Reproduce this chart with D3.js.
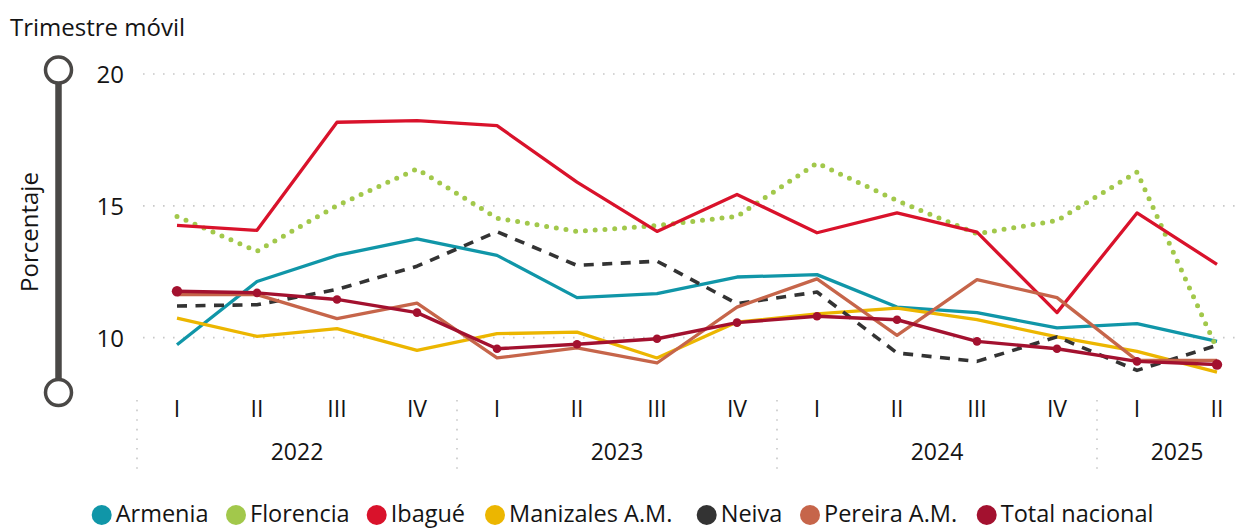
<!DOCTYPE html>
<html>
<head>
<meta charset="utf-8">
<script src="https://cdn.jsdelivr.net/npm/d3@7"></script>
<style>
  html, body { margin: 0; padding: 0; background: #fff; }
  svg { display: block; }
  text { font-family: "Segoe UI", "Open Sans", "Noto Sans", sans-serif; fill: #141414; }
</style>
</head>
<body>
<script>
// ---------- data ----------
const quarters = ["I","II","III","IV","I","II","III","IV","I","II","III","IV","I","II"];
const years = ["2022","2023","2024","2025"];
const yearOfPoint = [0,0,0,0,1,1,1,1,2,2,2,2,3,3];
const yTicks = [10, 15, 20];

const armenia   = [9.73, 12.13, 13.12, 13.75, 13.12, 11.52, 11.67, 12.30, 12.39, 11.16, 10.95, 10.37, 10.53, 9.86];
const florencia = [14.60, 13.28, 15.01, 16.40, 14.53, 14.03, 14.25, 14.60, 16.62, 15.20, 13.94, 14.44, 16.28, 9.58];
const ibague    = [14.26, 14.07, 18.17, 18.23, 18.04, 15.90, 14.03, 15.43, 13.98, 14.73, 14.00, 10.95, 14.73, 12.78];
const manizales = [10.74, 10.05, 10.34, 9.52, 10.15, 10.21, 9.23, 10.59, 10.90, 11.12, 10.68, 10.03, 9.48, 8.69];
const neiva     = [11.20, 11.25, 11.83, 12.71, 14.02, 12.74, 12.90, 11.29, 11.73, 9.42, 9.10, 10.03, 8.76, 9.71];
const pereira   = [11.63, 11.63, 10.72, 11.31, 9.23, 9.61, 9.04, 11.16, 12.23, 10.09, 12.20, 11.52, 9.14, 9.14];
const total     = [11.76, 11.70, 11.45, 10.95, 9.58, 9.75, 9.96, 10.57, 10.81, 10.68, 9.86, 9.58, 9.10, 8.98];

const seriesNames  = ["Armenia","Florencia","Ibagué","Manizales A.M.","Neiva","Pereira A.M.","Total nacional"];
const seriesValues = [armenia, florencia, ibague, manizales, neiva, pereira, total];
const seriesColors = ["#1096A8","#A2C84B","#D9122B","#ECB600","#333333","#C6654A","#A3112F"];

// ---------- layout ----------
const W = 1241, H = 528;
const svg = d3.select("body").append("svg").attr("width", W).attr("height", H);

const x = d3.scaleBand().domain(d3.range(quarters.length)).range([137, 1257]).padding(0);
const xc = i => x(i) + x.bandwidth() / 2;
const y = d3.scaleLinear().domain([8, 20]).range([390.4, 74]);

// title
svg.append("text").attr("x", 10).attr("y", 36).attr("font-size", 24).text("Trimestre móvil");

// slider-like axis decoration
svg.append("line").attr("x1", 58.5).attr("x2", 58.5).attr("y1", 70).attr("y2", 392.5)
  .attr("stroke", "#4a4846").attr("stroke-width", 6.5);
[70, 392.5].forEach(cy => {
  svg.append("circle").attr("cx", 58.5).attr("cy", cy).attr("r", 13)
    .attr("fill", "#fff").attr("stroke", "#4a4846").attr("stroke-width", 3.5);
});
svg.append("text").attr("transform", "translate(38,232) rotate(-90)")
  .attr("text-anchor", "middle").attr("font-size", 24).text("Porcentaje");

// grid + y tick labels
const yAxis = d3.axisLeft(y).tickValues(yTicks).tickSize(0).tickPadding(0);
const ga = svg.append("g").attr("transform", "translate(124,0)").call(yAxis);
ga.select(".domain").remove();
ga.selectAll("text").attr("font-size", 24).attr("dy", "0.35em").style("font-family", null).attr("fill", "#141414");
svg.append("g").selectAll("line").data(yTicks).join("line")
  .attr("x1", 143).attr("x2", 1236).attr("y1", d => y(d)).attr("y2", d => y(d))
  .attr("stroke", "#c8c8c8").attr("stroke-width", 1.6).attr("stroke-dasharray", "1.6 8.4");

// x axis: quarter labels
const xAxis = d3.axisBottom(x).tickFormat(i => quarters[i]).tickSize(0).tickPadding(0);
const gx = svg.append("g").attr("transform", "translate(0,400)").call(xAxis);
gx.select(".domain").remove();
gx.selectAll("text").attr("font-size", 23).attr("dy", "0.72em").style("font-family", null).attr("fill", "#141414");

// year labels and separators
const yearStart = years.map((yr, k) => yearOfPoint.indexOf(k));
const yearEnd = years.map((yr, k) => yearOfPoint.lastIndexOf(k));
svg.append("g").selectAll("text").data(years).join("text")
  .attr("x", (d, k) => (x(yearStart[k]) + x(yearEnd[k]) + x.bandwidth()) / 2)
  .attr("y", 460).attr("text-anchor", "middle").attr("font-size", 23).text(d => d);
svg.append("g").selectAll("line").data(yearStart).join("line")
  .attr("x1", d => x(d)).attr("x2", d => x(d)).attr("y1", 400).attr("y2", 473)
  .attr("stroke", "#c8c8c8").attr("stroke-width", 1.6).attr("stroke-dasharray", "1.6 8");

// lines
const line = d3.line().x((d, i) => xc(i)).y(d => y(d));
const styles = [
  {w: 3.3}, {w: 5, dash: "0 9.8", cap: "round"}, {w: 3.3}, {w: 3.3},
  {w: 3.6, dash: "10 8.5"}, {w: 3.3}, {w: 3.4}
];
seriesValues.forEach((vals, s) => {
  svg.append("path").datum(vals).attr("d", line).attr("fill", "none")
    .attr("stroke", seriesColors[s]).attr("stroke-width", styles[s].w)
    .attr("stroke-linejoin", "round")
    .attr("stroke-linecap", styles[s].cap || "butt")
    .attr("stroke-dasharray", styles[s].dash || null);
});
// markers on Total nacional
svg.append("g").selectAll("circle").data(total).join("circle")
  .attr("cx", (d, i) => xc(i)).attr("cy", d => y(d))
  .attr("r", (d, i) => (i === 0 || i === total.length - 1) ? 5.2 : 4.3)
  .attr("fill", seriesColors[6]);

// legend
const legendX = [101.7, 236, 376.7, 495, 706.7, 810, 986.7];
const lg = svg.append("g");
seriesNames.forEach((n, s) => {
  lg.append("circle").attr("cx", legendX[s]).attr("cy", 515).attr("r", 10).attr("fill", seriesColors[s]);
  lg.append("text").attr("x", legendX[s] + 14).attr("y", 522).attr("font-size", 23.5).text(n);
});
</script>
</body>
</html>
